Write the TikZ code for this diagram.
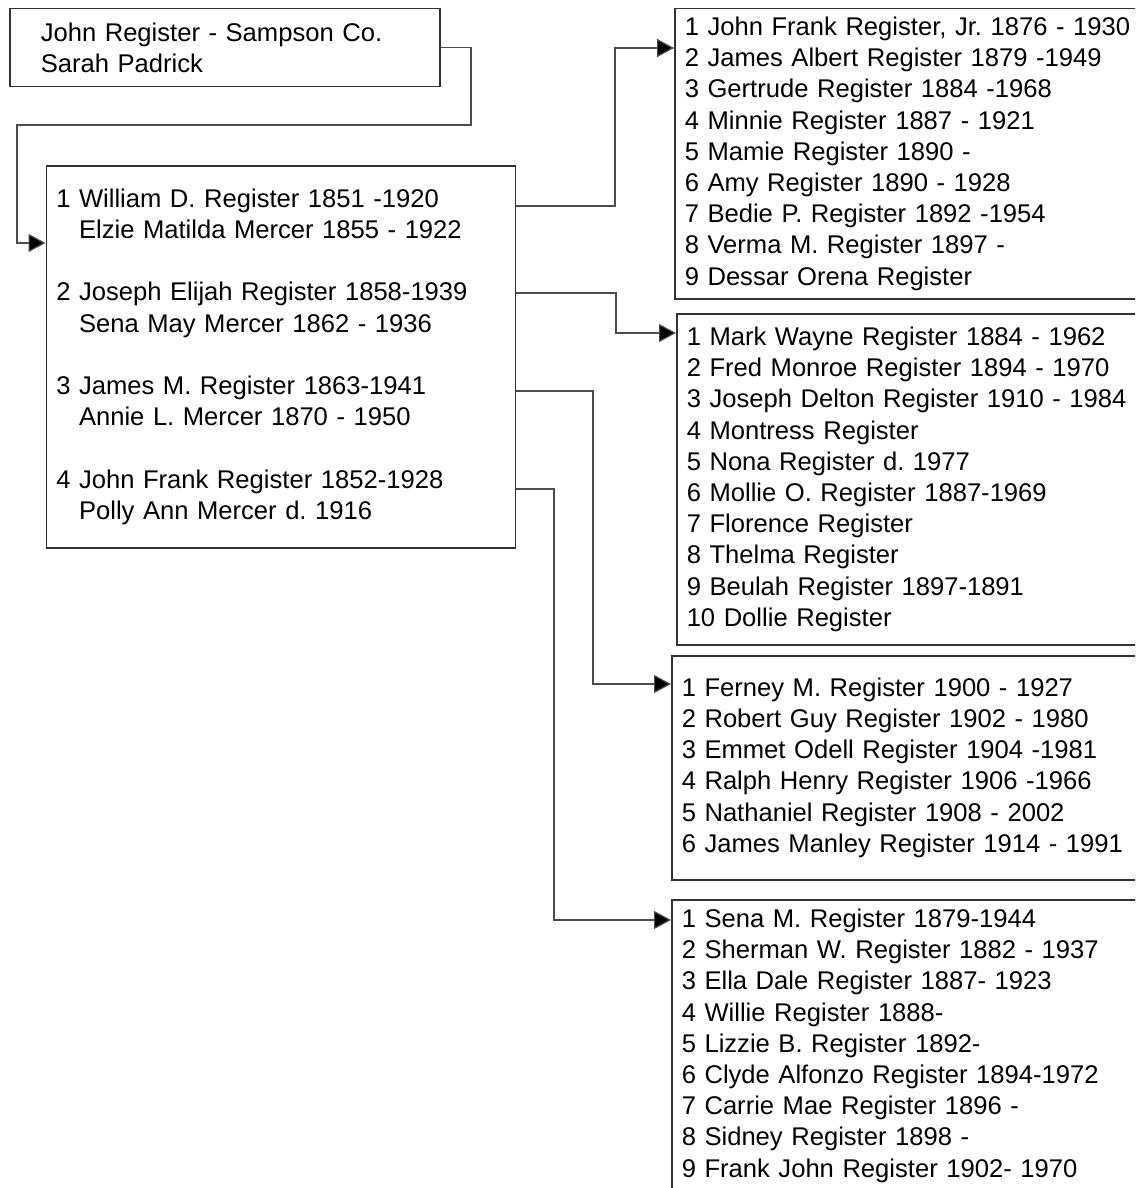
\documentclass[tikz,border=0pt]{standalone}
\usepackage{fontspec}
\setmainfont{Liberation Sans}
\usetikzlibrary{arrows.meta,calc}
\tikzset{
  famnode/.style={draw=black!80,line width=1.5pt,anchor=north west,align=left,
    inner ysep=0pt,font=\fontsize{25.6}{31.2}\selectfont\frenchspacing},
  link/.style={draw=black!70,line width=1.2pt},
  arr/.style={link,-{Triangle[length=17pt,width=18pt,fill=black]}}
}
\begin{document}
\begin{tikzpicture}[x=1pt,y=-1pt]
	\useasboundingbox (0,0) rectangle (1135,1188);
	\clip (0,0) rectangle (1135,1188);
	\node [famnode,inner xsep=31pt,text width=368pt,minimum height=78pt] (parents) at (9,8)
		{John Register - Sampson Co.\\Sarah Padrick};
	\node [famnode,inner xsep=10pt,text width=449pt,minimum height=382pt] (sons) at (45.5,165)
		{1 William D. Register 1851 -1920\\
		\hphantom{1}\ Elzie Matilda Mercer 1855 - 1922\\[31.2pt]
		2 Joseph Elijah Register 1858-1939\\
		\hphantom{2}\ Sena May Mercer 1862 - 1936\\[31.2pt]
		3 James M. Register 1863-1941\\
		\hphantom{3}\ Annie L. Mercer 1870 - 1950\\[31.2pt]
		4 John Frank Register 1852-1928\\
		\hphantom{4}\ Polly Ann Mercer d. 1916};
	\node [famnode,inner xsep=10pt,text width=460pt,minimum height=290pt] (kidsA) at (674,8)
		{1 John Frank Register, Jr. 1876 - 1930\\
		2 James Albert Register 1879 -1949\\
		3 Gertrude Register 1884 -1968\\
		4 Minnie Register 1887 - 1921\\
		5 Mamie Register 1890 -\\
		6 Amy Register 1890 - 1928\\
		7 Bedie P. Register 1892 -1954\\
		8 Verma M. Register 1897 -\\
		9 Dessar Orena Register};
	\node [famnode,inner xsep=10pt,text width=460pt,minimum height=331pt] (kidsB) at (676,313)
		{1 Mark Wayne Register 1884 - 1962\\
		2 Fred Monroe Register 1894 - 1970\\
		3 Joseph Delton Register 1910 - 1984\\
		4 Montress Register\\
		5 Nona Register d. 1977\\
		6 Mollie O. Register 1887-1969\\
		7 Florence Register\\
		8 Thelma Register\\
		9 Beulah Register 1897-1891\\
		10 Dollie Register};
	\node [famnode,inner xsep=10pt,text width=460pt,minimum height=224pt] (kidsC) at (671,655)
		{1 Ferney M. Register 1900 - 1927\\
		2 Robert Guy Register 1902 - 1980\\
		3 Emmet Odell Register 1904 -1981\\
		4 Ralph Henry Register 1906 -1966\\
		5 Nathaniel Register 1908 - 2002\\
		6 James Manley Register 1914 - 1991};
	\node [famnode,inner xsep=10pt,text width=460pt,minimum height=292pt] (kidsD) at (671,899)
		{1 Sena M. Register 1879-1944\\
		2 Sherman W. Register 1882 - 1937\\
		3 Ella Dale Register 1887- 1923\\
		4 Willie Register 1888-\\
		5 Lizzie B. Register 1892-\\
		6 Clyde Alfonzo Register 1894-1972\\
		7 Carrie Mae Register 1896 -\\
		8 Sidney Register 1898 -\\
		9 Frank John Register 1902- 1970};
	\coordinate (bend) at (17,243);
	\draw [arr] (parents.east) -| (471,125) -| (bend) -- (bend -| sons.west);
	\draw [arr] ($(sons.north east)+(0,41)$) -| (615,48) -- ($(kidsA.north west)+(0,40)$);
	\draw [arr] ($(sons.north east)+(0,128)$) -| (616,333) -- ($(kidsB.north west)+(0,20)$);
	\draw [arr] ($(sons.north east)+(0,226)$) -| (593,684) -- ($(kidsC.north west)+(0,29)$);
	\draw [arr] ($(sons.north east)+(0,324)$) -| (554,920) -- ($(kidsD.north west)+(0,21)$);
\end{tikzpicture}
\end{document}
